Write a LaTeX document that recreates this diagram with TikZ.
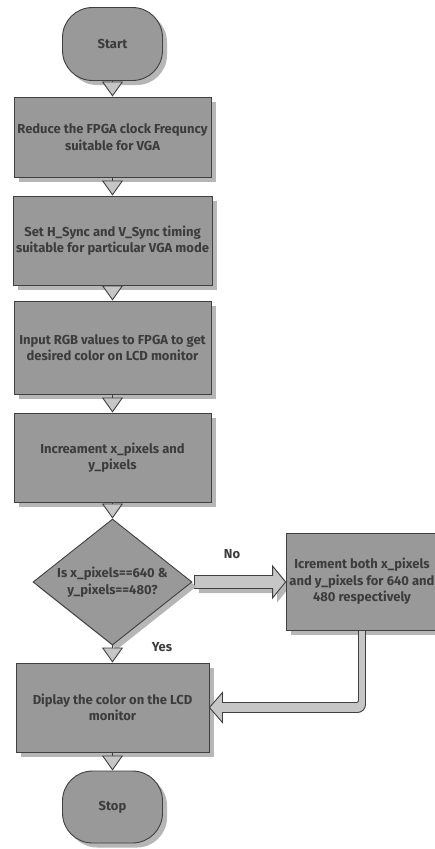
\documentclass[tikz,border=0pt]{standalone}
\usepackage{fontspec}
\setmainfont{Fira Sans}
\usetikzlibrary{shapes.geometric,shadows,arrows.meta,calc,backgrounds}

\definecolor{boxgray}{HTML}{999999}
\definecolor{shadowgray}{HTML}{B6B6B6}
\definecolor{tipgray}{HTML}{C6C6C6}
\definecolor{linegray}{HTML}{404040}
\definecolor{textgray}{HTML}{3C3C3C}

\begin{document}
\begin{tikzpicture}[x=1pt,y=-1pt,
	every node/.style={font=\fontsize{13}{16.5}\selectfont\bfseries,text=textgray},
	boxshadow/.style={drop shadow={shadow xshift=4.5pt,shadow yshift=-4.5pt,fill=shadowgray,opacity=1}},
	procbox/.style={rectangle,draw=linegray,line width=0.9pt,fill=boxgray,boxshadow,align=center,minimum width=197pt,inner sep=2pt},
	termbox/.style={rectangle,rounded corners=30pt,draw=linegray,line width=0.9pt,fill=boxgray,boxshadow,minimum width=100pt,minimum height=73pt},
	decbox/.style={diamond,aspect=1.26,draw=linegray,line width=0.9pt,fill=boxgray,boxshadow,align=center,inner sep=0pt,minimum width=159pt,minimum height=126pt},
	flowarrow/.style={draw=linegray,line width=0.9pt,-{Triangle[width=21pt,length=15pt,fill=tipgray]}},
	blockarrow/.style={draw=linegray,line width=0.9pt,fill=tipgray},
	lbl/.style={font=\fontsize{13}{15}\selectfont\bfseries}]
	\useasboundingbox (0,0) rectangle (434,849);
	% main column
	\node[termbox] (start) at (112.5,44) {Start};
	\node[procbox,minimum height=80pt] (reduce) at (112.5,137) {Reduce the FPGA clock Frequncy\\suitable for VGA};
	\node[procbox,minimum width=199pt,minimum height=89pt] (sync) at (112.5,240.5) {Set H\_Sync and V\_Sync timing\\suitable for particular VGA mode};
	\node[procbox,minimum height=93pt] (rgb) at (112.5,347.5) {Input RGB values to FPGA to get\\desired color on LCD monitor};
	\node[procbox,minimum height=89pt] (incr) at (112.5,457.5) {Increament x\_pixels and\\y\_pixels};
	\node[decbox] (check) at (112.5,582) {Is x\_pixels==640 \&\\y\_pixels==480?};
	\node[procbox,minimum width=193pt,minimum height=89pt] (disp) at (112.5,707.5) {Diplay the color on the LCD\\monitor};
	\node[termbox,minimum height=72pt] (stop) at (112.5,807) {Stop};
	% side branch
	\node[procbox,minimum width=152pt,minimum height=97pt] (icr) at (362,581.5) {Icrement both x\_pixels\\and y\_pixels for 640 and\\480 respectively};
	\node[lbl] (no) at (232,554) {No};
	\node[lbl] (yes) at (162,647) {Yes};
	%
	\draw[flowarrow] (start) -- (reduce);
	\draw[flowarrow] (reduce) -- (sync);
	\draw[flowarrow] (sync) -- (rgb);
	\draw[flowarrow] (rgb) -- (incr);
	\draw[flowarrow] (incr) -- (check);
	\draw[flowarrow] (check) -- (disp);
	\draw[flowarrow] (disp) -- (stop);
	%
	\begin{scope}[on background layer]
	\draw[blockarrow,boxshadow] let \p1=(check.east), \p2=(icr.west) in
		(\x1+2pt,\y1+6.5pt) -- (\x2-13pt,\y1+6.5pt) -- (\x2-13pt,\y1+16pt) -- (\x2,\y1)
		-- (\x2-13pt,\y1-16pt) -- (\x2-13pt,\y1-6.5pt) -- (\x1+2pt,\y1-6.5pt) -- cycle;
	\end{scope}
	\draw[blockarrow] let \p1=(icr.south), \p2=(disp.east) in
		(\x1-3.5pt,\y1) [rounded corners=2pt] -- (\x1-3.5pt,\y2+5pt) [sharp corners] -- (\x2+13pt,\y2+5pt)
		-- (\x2+13pt,\y2+15pt) -- (\x2,\y2) -- (\x2+13pt,\y2-15pt) -- (\x2+13pt,\y2-5pt)
		[rounded corners=8pt] -- (\x1+3.5pt,\y2-5pt) [sharp corners] -- (\x1+3.5pt,\y1) -- cycle;
\end{tikzpicture}
\end{document}
